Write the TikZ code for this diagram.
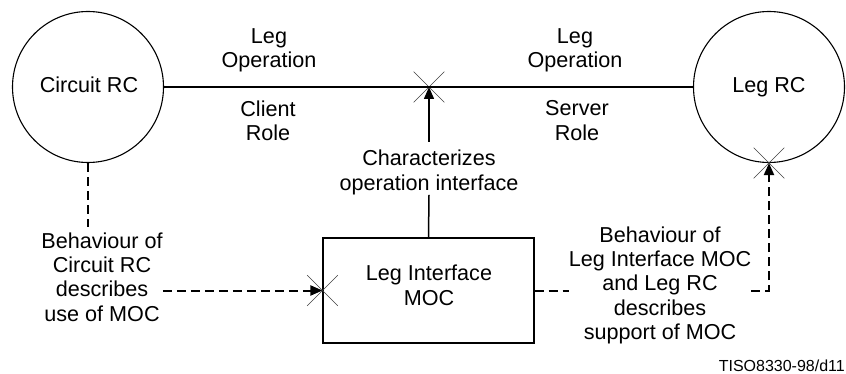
\documentclass[tikz,border=0pt]{standalone}
\usepackage{fontspec}
\setmainfont{Liberation Sans}
\usetikzlibrary{arrows.meta,shapes.misc}
\begin{document}
\begin{tikzpicture}[x=1pt,y=-1pt,
  lbl/.style={align=center,inner sep=0pt,anchor=north,font=\fontsize{21.6}{24.3}\selectfont},
  rcshape/.style={circle,draw,line width=1.1pt,minimum size=151pt,inner sep=0pt},
  xmark/.style={cross out,draw=black!75,line width=0.6pt,minimum size=30pt,inner sep=0pt},
  solidln/.style={line width=1.5pt},
  dashln/.style={line width=2pt,dash pattern=on 9pt off 5pt},
  tip/.style={-{Triangle[length=12pt,width=10pt]}}]
\useasboundingbox (0,0) rectangle (846,374);

\node[rcshape] (crc) at (88,87) {};
\node[lbl] (crct) at (89,77) {Circuit RC};
\node[rcshape] (lrc) at (769,87) {};
\node[lbl] (lrct) at (769,77) {Leg RC};

\node[draw,line width=1.1pt,minimum width=211pt,minimum height=105pt,inner sep=0pt] (moc) at (428.5,290.5) {};
\node[lbl] (moct) at (429,265) {Leg Interface\\MOC};

\node[xmark] (xtop) at (429,87) {};
\node[xmark] (xleft) at (moc.west) {};
\node[xmark] (xright) at (lrc.south) {};

\draw[solidln] (crc.east) -- (lrc.west);

\node[lbl] (lo1) at (269,28) {Leg\\Operation};
\node[lbl] (cr) at (268,100.5) {Client\\Role};
\node[lbl] (lo2) at (575,28) {Leg\\Operation};
\node[lbl] (sr) at (577,100.5) {Server\\Role};

\node[lbl] (chr) at (429,150) {Characterizes\\operation interface};
\draw[solidln] (moc.north) -- (chr.south);
\draw[solidln,tip] ([yshift=8pt]chr.north) -- (xtop.center);

\node[lbl] (bl) at (102,232.5) {Behaviour of\\Circuit RC\\describes\\use of MOC};
\coordinate (blt) at (88,227);
\draw[dashln] (crc.south) -- (blt);
\draw[dashln,tip] (bl.east |- moc.west) -- (xleft.center);

\node[lbl] (br) at (660,226.5) {Behaviour of\\Leg Interface MOC\\and Leg RC\\describes\\support of MOC};
\draw[dashln] (moc.east) -- (br.west |- moc.east);
\draw[dashln,tip] (br.east |- moc.east) -| (xright.center);

\node[anchor=north east,inner sep=0pt,font=\fontsize{16}{19}\selectfont] (tiso) at (845,359.5) {TISO8330-98/d11};
\end{tikzpicture}
\end{document}
